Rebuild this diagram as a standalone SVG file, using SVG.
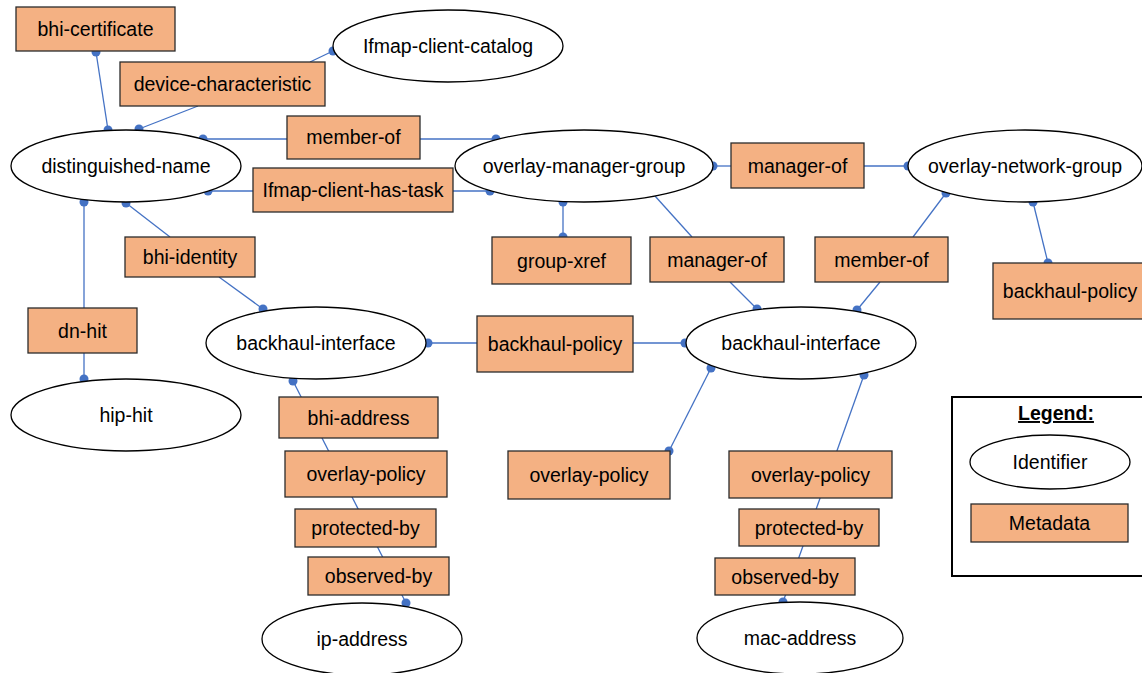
<svg xmlns="http://www.w3.org/2000/svg" width="1142" height="673" viewBox="0 0 1142 673">
  <style>
    .id ellipse { fill: #ffffff; stroke: #000000; stroke-width: 1.3; }
    .md rect { fill: #F4B183; stroke: #2b2b2b; stroke-width: 1.3; }
    text { font-family: "Liberation Sans", Arial, sans-serif; font-size: 19.5px; fill: #000000; text-anchor: middle; }
    .edge line { stroke: #4472C4; stroke-width: 1.3; }
    .edge circle { fill: #4472C4; }
    .legend-title { font-weight: bold; text-decoration: underline; }
  </style>

  <!-- links between identifiers and metadata; shapes are drawn on top -->
  <g id="connectors" class="edge">
    <line x1="96" y1="52" x2="108" y2="130"/>
    <circle cx="96" cy="52" r="4.5"/><circle cx="108" cy="130" r="4.5"/>

    <line x1="198" y1="106" x2="139" y2="129"/>
    <circle cx="139" cy="129" r="4.5"/>
    <line x1="310" y1="62" x2="333" y2="51"/>
    <circle cx="333" cy="51" r="4.5"/>

    <line x1="203" y1="139" x2="287" y2="139"/>
    <line x1="420" y1="139" x2="496" y2="139"/>
    <circle cx="203" cy="139" r="4.5"/><circle cx="496" cy="139" r="4.5"/>

    <line x1="208" y1="191" x2="253" y2="191"/>
    <line x1="453" y1="191" x2="490" y2="191"/>
    <circle cx="208" cy="191" r="4.5"/><circle cx="490" cy="191" r="4.5"/>

    <line x1="713" y1="166" x2="731" y2="166"/>
    <line x1="864" y1="166" x2="908" y2="166"/>
    <circle cx="713" cy="166" r="4.5"/><circle cx="908" cy="166" r="4.5"/>

    <line x1="563" y1="202" x2="563" y2="237"/>
    <circle cx="563" cy="202" r="4.5"/><circle cx="563" cy="237" r="4.5"/>

    <line x1="655" y1="196" x2="692" y2="237"/>
    <line x1="730" y1="282" x2="757" y2="309"/>
    <circle cx="757" cy="309" r="4.5"/>

    <line x1="946" y1="193" x2="913" y2="237"/>
    <line x1="880" y1="282" x2="857" y2="310"/>
    <circle cx="946" cy="193" r="4.5"/><circle cx="857" cy="310" r="4.5"/>

    <line x1="1033" y1="202" x2="1048" y2="263"/>
    <circle cx="1033" cy="202" r="4.5"/><circle cx="1048" cy="263" r="4.5"/>

    <line x1="84" y1="202" x2="84" y2="308"/>
    <line x1="84" y1="353" x2="84" y2="379"/>
    <circle cx="84" cy="202" r="4.5"/><circle cx="84" cy="379" r="4.5"/>

    <line x1="126" y1="203" x2="170" y2="237"/>
    <line x1="219" y1="277" x2="263" y2="309"/>
    <circle cx="126" cy="203" r="4.5"/><circle cx="263" cy="309" r="4.5"/>

    <line x1="428" y1="343" x2="477" y2="343"/>
    <line x1="633" y1="343" x2="685" y2="343"/>
    <circle cx="428" cy="343" r="4.5"/><circle cx="685" cy="343" r="4.5"/>

    <line x1="293" y1="381" x2="406" y2="603"/>
    <circle cx="293" cy="381" r="4.5"/><circle cx="406" cy="603" r="4.5"/>

    <line x1="711" y1="368" x2="669" y2="451"/>
    <circle cx="711" cy="368" r="4.5"/><circle cx="669" cy="451" r="4.5"/>

    <line x1="864" y1="375" x2="783" y2="602"/>
    <circle cx="864" cy="375" r="4.5"/><circle cx="783" cy="602" r="4.5"/>
  </g>

  <!-- identifiers -->
  <g id="distinguished-name" class="id"><ellipse cx="126" cy="166" rx="115" ry="36"/><text x="126" y="173">distinguished-name</text></g>
  <g id="ifmap-client-catalog" class="id"><ellipse cx="448" cy="46" rx="115" ry="36"/><text x="448" y="53">Ifmap-client-catalog</text></g>
  <g id="overlay-manager-group" class="id"><ellipse cx="584" cy="166" rx="129" ry="36"/><text x="584" y="173">overlay-manager-group</text></g>
  <g id="overlay-network-group" class="id"><ellipse cx="1025" cy="166" rx="117" ry="36"/><text x="1025" y="173">overlay-network-group</text></g>
  <g id="backhaul-interface-1" class="id"><ellipse cx="316" cy="343" rx="110" ry="36"/><text x="316" y="350">backhaul-interface</text></g>
  <g id="backhaul-interface-2" class="id"><ellipse cx="801" cy="343" rx="115" ry="36"/><text x="801" y="350">backhaul-interface</text></g>
  <g id="hip-hit" class="id"><ellipse cx="126" cy="415" rx="115" ry="36"/><text x="126" y="422">hip-hit</text></g>
  <g id="ip-address" class="id"><ellipse cx="362" cy="639" rx="100" ry="36"/><text x="362" y="646">ip-address</text></g>
  <g id="mac-address" class="id"><ellipse cx="800" cy="638" rx="103" ry="36"/><text x="800" y="645">mac-address</text></g>

  <!-- metadata -->
  <g id="bhi-certificate" class="md"><rect x="16" y="7" width="159" height="44"/><text x="95.5" y="36">bhi-certificate</text></g>
  <g id="device-characteristic" class="md"><rect x="120" y="62" width="205" height="44"/><text x="222.5" y="91">device-characteristic</text></g>
  <g id="member-of-1" class="md"><rect x="287" y="116" width="133" height="43"/><text x="353.5" y="144">member-of</text></g>
  <g id="ifmap-client-has-task" class="md"><rect x="253" y="168" width="200" height="44"/><text x="353" y="197">Ifmap-client-has-task</text></g>
  <g id="manager-of-1" class="md"><rect x="731" y="143" width="133" height="45"/><text x="797.5" y="172.5">manager-of</text></g>
  <g id="group-xref" class="md"><rect x="492" y="237" width="139" height="47"/><text x="561.5" y="267.5">group-xref</text></g>
  <g id="manager-of-2" class="md"><rect x="650" y="237" width="134" height="45"/><text x="717" y="266.5">manager-of</text></g>
  <g id="member-of-2" class="md"><rect x="815" y="237" width="133" height="45"/><text x="881.5" y="266.5">member-of</text></g>
  <g id="backhaul-policy-2" class="md"><rect x="993" y="263" width="152" height="56"/><text x="1070" y="298">backhaul-policy</text></g>
  <g id="bhi-identity" class="md"><rect x="125" y="237" width="130" height="40"/><text x="190" y="264">bhi-identity</text></g>
  <g id="dn-hit" class="md"><rect x="28" y="308" width="109" height="45"/><text x="82.5" y="337.5">dn-hit</text></g>
  <g id="backhaul-policy-1" class="md"><rect x="477" y="316" width="156" height="56"/><text x="555" y="351">backhaul-policy</text></g>
  <g id="bhi-address" class="md"><rect x="279" y="397" width="159" height="41"/><text x="358.5" y="424.5">bhi-address</text></g>
  <g id="overlay-policy-1" class="md"><rect x="285" y="451" width="162" height="46"/><text x="366" y="481">overlay-policy</text></g>
  <g id="protected-by-1" class="md"><rect x="295" y="509" width="141" height="38"/><text x="365.5" y="535">protected-by</text></g>
  <g id="observed-by-1" class="md"><rect x="308" y="557" width="141" height="38"/><text x="378.5" y="583">observed-by</text></g>
  <g id="overlay-policy-2" class="md"><rect x="508" y="451" width="162" height="48"/><text x="589" y="482">overlay-policy</text></g>
  <g id="overlay-policy-3" class="md"><rect x="729" y="451" width="163" height="47"/><text x="810.5" y="481.5">overlay-policy</text></g>
  <g id="protected-by-2" class="md"><rect x="739" y="509" width="140" height="37"/><text x="809" y="534.5">protected-by</text></g>
  <g id="observed-by-2" class="md"><rect x="715" y="558" width="140" height="37"/><text x="785" y="583.5">observed-by</text></g>

  <!-- key -->
  <g id="legend">
    <rect x="952" y="397" width="194" height="179" fill="#ffffff" stroke="#000000" stroke-width="2"/>
    <text class="legend-title" x="1056" y="420">Legend:</text>
    <g class="id"><ellipse cx="1050" cy="462" rx="80" ry="27"/><text x="1050" y="469">Identifier</text></g>
    <g class="md"><rect x="971" y="504" width="157" height="38"/><text x="1049.5" y="530">Metadata</text></g>
  </g>
</svg>
